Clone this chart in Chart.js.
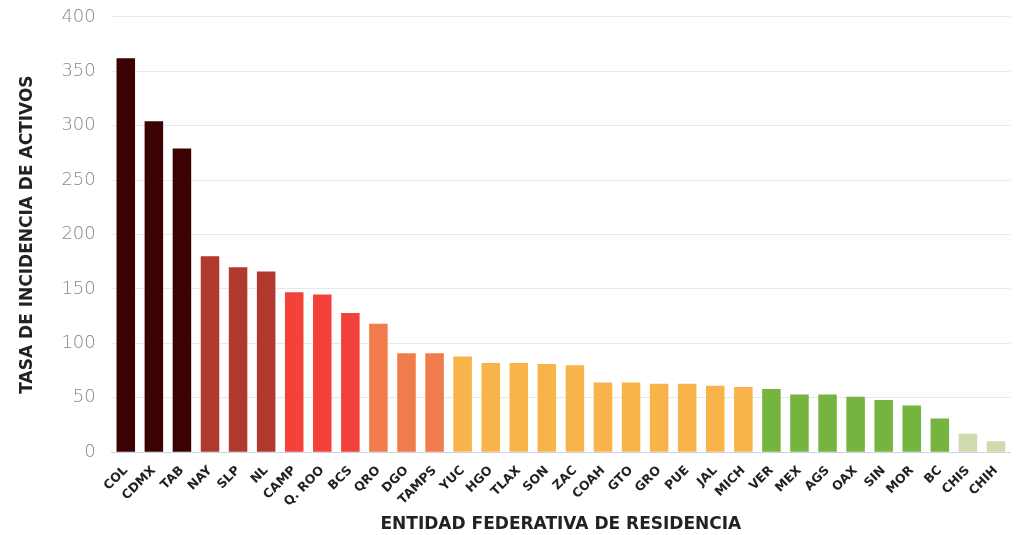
<!DOCTYPE html>
<html>
<head>
<meta charset="utf-8">
<script src="https://cdn.jsdelivr.net/npm/chart.js@4"></script>
<style>
  html, body { margin: 0; padding: 0; background: #ffffff; }
  #wrap { width: 1018px; height: 535px; }
</style>
</head>
<body>
<div id="wrap"><canvas id="chartTasa" width="1018" height="535"></canvas></div>
<script>
const entidades = ['COL', 'CDMX', 'TAB', 'NAY', 'SLP', 'NL', 'CAMP', 'Q. ROO', 'BCS', 'QRO', 'DGO', 'TAMPS', 'YUC', 'HGO', 'TLAX', 'SON', 'ZAC', 'COAH', 'GTO', 'GRO', 'PUE', 'JAL', 'MICH', 'VER', 'MEX', 'AGS', 'OAX', 'SIN', 'MOR', 'BC', 'CHIS', 'CHIH'];
const tasas = [362, 304, 279, 180, 170, 166, 147, 145, 128, 118, 91, 91, 88, 82, 82, 81, 80, 64, 64, 63, 63, 61, 60, 58, 53, 53, 51, 48, 43, 31, 17, 10];
// grupo de color por entidad (0 = mas alto)
const grupos = [0, 0, 0, 1, 1, 1, 2, 2, 2, 3, 3, 3, 4, 4, 4, 4, 4, 4, 4, 4, 4, 4, 4, 5, 5, 5, 5, 5, 5, 5, 6, 6];
const coloresGrupo = ['#3b0103', '#b2392f', '#f4423a', '#f07c4b', '#f8b44b', '#76b440', '#cfdbad'];
const ticksY = [0, 50, 100, 150, 200, 250, 300, 350, 400];

const ctx = document.getElementById('chartTasa').getContext('2d');
new Chart(ctx, {
  type: 'bar',
  data: {
    labels: entidades,
    datasets: [{
      data: tasas,
      backgroundColor: grupos.map(g => coloresGrupo[g]),
      categoryPercentage: 1.0,
      barPercentage: 0.66
    }]
  },
  options: {
    responsive: false,
    animation: false,
    layout: { padding: { top: 0, right: 8, left: 8, bottom: 0 } },
    plugins: { legend: { display: false }, tooltip: { enabled: false } },
    scales: {
      x: {
        grid: { display: false },
        border: { color: '#c9d3e6', width: 1 },
        ticks: {
          maxRotation: 45, minRotation: 45, autoSkip: false, padding: 3,
          color: '#222', font: { family: 'DejaVu Sans', size: 12.5, weight: 'bold' }
        },
        title: {
          display: true, text: 'ENTIDAD FEDERATIVA DE RESIDENCIA',
          color: '#222', font: { family: 'DejaVu Sans', size: 17, weight: 'bold' },
          padding: { top: 2, bottom: 0 }
        }
      },
      y: {
        min: 0, max: 400,
        afterBuildTicks: axis => { axis.ticks = ticksY.map(v => ({ value: v })); },
        grid: { color: '#e8e8e8', drawTicks: false },
        border: { display: false },
        ticks: {
          padding: 16,
          color: '#888', font: { family: 'DejaVu Sans', size: 18, weight: '300', lineHeight: 0.1 }
        },
        title: {
          display: true, text: 'TASA DE INCIDENCIA DE ACTIVOS',
          color: '#222', font: { family: 'DejaVu Sans', size: 17, weight: 'bold' },
          padding: { top: 9, bottom: 8 }
        }
      }
    }
  }
});
</script>
</body>
</html>
